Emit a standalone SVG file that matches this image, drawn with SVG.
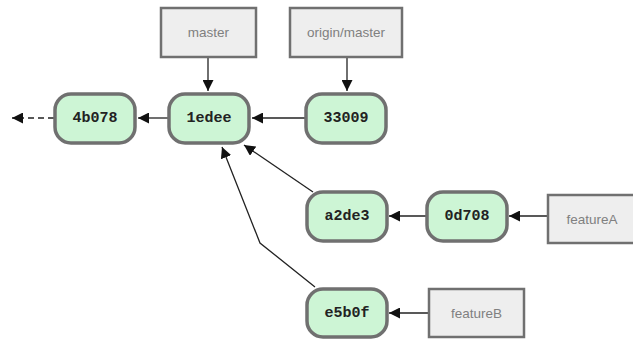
<svg xmlns="http://www.w3.org/2000/svg" width="633" height="342" viewBox="0 0 633 342">
<style>
.commit rect{fill:#cdf5d5;stroke:#707070;stroke-width:3.5}
.commit text{font-family:"Liberation Mono",monospace;font-weight:bold;font-size:15px;fill:#222;text-anchor:middle;dominant-baseline:central}
.ref rect{fill:#eeeeee;stroke:#707070;stroke-width:2.5}
.ref text{font-family:"Liberation Sans",Arial,sans-serif;font-size:13.5px;fill:#808080;text-anchor:middle;dominant-baseline:central}
.conn path{fill:none;stroke:#222;stroke-width:1.3}
</style>
<defs>
<marker id="ah" viewBox="0 0 10 10" refX="10" refY="5" markerWidth="11" markerHeight="11" markerUnits="userSpaceOnUse" orient="auto">
<path d="M0,0 L10,5 L0,10 z" fill="#111"/>
</marker>
</defs>
<rect width="633" height="342" fill="#fff"/>
<g class="conn">
<path d="M54,118 L12,118" stroke-dasharray="6,4" marker-end="url(#ah)"/>
<path d="M168,118 L138,118" marker-end="url(#ah)"/>
<path d="M305,118 L252,118" marker-end="url(#ah)"/>
<path d="M208,57 L208,91" marker-end="url(#ah)"/>
<path d="M347,57 L347,91" marker-end="url(#ah)"/>
<path d="M313,192 L244,145" marker-end="url(#ah)"/>
<path d="M315,287 L260,243 L222,147" marker-end="url(#ah)"/>
<path d="M427,216 L389,216" marker-end="url(#ah)"/>
<path d="M548,216 L509,216" marker-end="url(#ah)"/>
<path d="M429,313 L389,313" marker-end="url(#ah)"/>
</g>
<g id="ref-master" class="ref"><rect x="161" y="8" width="95" height="49"/><text x="208.5" y="32.5">master</text></g>
<g id="ref-origin-master" class="ref"><rect x="290" y="8" width="112" height="49"/><text x="346" y="32.5">origin/master</text></g>
<g id="ref-featureA" class="ref"><rect x="548" y="195" width="95" height="48"/><text x="592" y="219">featureA</text></g>
<g id="ref-featureB" class="ref"><rect x="429" y="289" width="95" height="48"/><text x="476.5" y="313">featureB</text></g>
<g id="c-4b078" class="commit"><rect x="55" y="94" width="80" height="49" rx="16"/><text x="95" y="118.5">4b078</text></g>
<g id="c-1edee" class="commit"><rect x="169" y="94" width="80" height="49" rx="16"/><text x="209" y="118.5">1edee</text></g>
<g id="c-33009" class="commit"><rect x="306" y="94" width="80" height="49" rx="16"/><text x="346" y="118.5">33009</text></g>
<g id="c-a2de3" class="commit"><rect x="307" y="192" width="80" height="49" rx="16"/><text x="347" y="216.5">a2de3</text></g>
<g id="c-0d708" class="commit"><rect x="427" y="192" width="80" height="49" rx="16"/><text x="467" y="216.5">0d708</text></g>
<g id="c-e5b0f" class="commit"><rect x="307" y="289" width="80" height="48" rx="16"/><text x="347" y="313">e5b0f</text></g>
</svg>
